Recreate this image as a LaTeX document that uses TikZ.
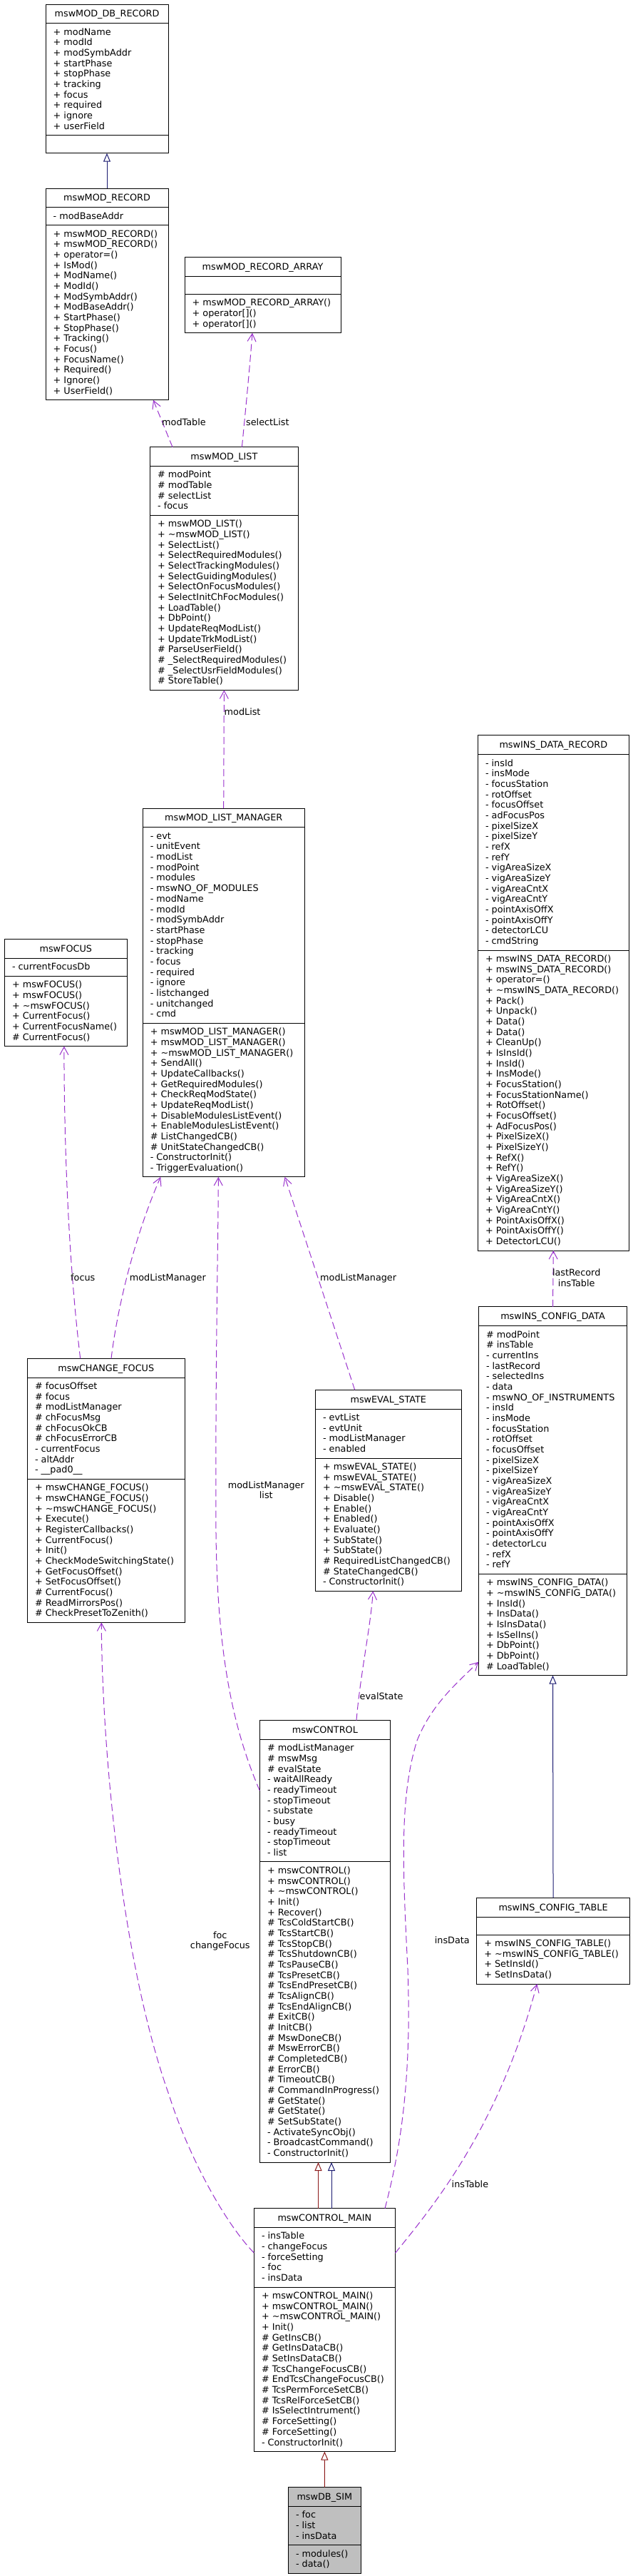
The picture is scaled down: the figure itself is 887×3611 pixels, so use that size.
\documentclass[tikz,border=0pt]{standalone}
\usepackage{fontspec}
\setmainfont{DejaVu Sans}
\usetikzlibrary{arrows.meta}
\definecolor{usecol}{HTML}{9A32CD}
\definecolor{pubcol}{HTML}{191970}
\definecolor{protcol}{HTML}{8B1A1A}
\definecolor{simgray}{HTML}{BFBFBF}
\newcommand{\umlfont}{\fontsize{12.8}{14.67}\selectfont}
\tikzset{
 classbox/.style={draw=black, line width=1pt, inner sep=0pt, outer sep=0pt},
 sepline/.style={draw=black, line width=1pt},
 membertext/.style={anchor=base west, inner sep=0pt, font=\umlfont},
 titletext/.style={anchor=base, inner sep=0pt, font=\umlfont},
 lbl/.style={anchor=base west, inner sep=0pt, font=\umlfont},
 lblc/.style={anchor=base, inner sep=0pt, font=\umlfont},
 uses/.style={draw=usecol, line width=1pt, dash pattern=on 10pt off 5pt, -{Straight Barb[length=11pt,width=12pt,line width=1pt]}},
 pubinh/.style={draw=pubcol, line width=1pt, -{Triangle[open,length=12pt,width=10pt,fill=white]}},
 protinh/.style={draw=protcol, line width=1pt, -{Triangle[open,length=12pt,width=10pt,fill=white]}},
}
\newcommand{\classfill}{white}
\newcommand{\umlclass}[9]{%
  \pgfmathsetmacro{\hA}{(#6==0) ? 25 : (#6*14.67+10.33)}%
  \pgfmathsetmacro{\hB}{(#8==0) ? 25 : (#8*14.67+10.33)}%
  \pgfmathsetmacro{\bw}{#3-#2}%
  \pgfmathsetmacro{\bh}{26.7+\hA+\hB}%
  \pgfmathsetmacro{\ysA}{26.7}%
  \pgfmathsetmacro{\ysB}{26.7+\hA}%
  \node[classbox, fill=\classfill, minimum width=\bw pt, minimum height=\bh pt, anchor=north west] (#1) at (#2,#4) {};
  \draw[sepline] ([yshift=-\ysA pt]#1.north west) -- ([yshift=-\ysA pt]#1.north east);
  \draw[sepline] ([yshift=-\ysB pt]#1.north west) -- ([yshift=-\ysB pt]#1.north east);
  \node[titletext] (#1-title) at ([yshift=-17.85pt]#1.north) {#5};
  \ifnum#6>0
  \foreach \mt [count=\mi from 0] in {#7} {%
     \pgfmathsetmacro{\yy}{26.7+12+\mi*14.67+4.5}%
     \node[membertext] at ([xshift=10.5pt, yshift=-\yy pt]#1.north west) {\mt};
  }\fi
  \ifnum#8>0
  \foreach \mt [count=\mi from 0] in {#9} {%
     \pgfmathsetmacro{\yy}{\ysB+12+\mi*14.67+4.5}%
     \node[membertext] at ([xshift=10.5pt, yshift=-\yy pt]#1.north west) {\mt};
  }\fi
}
\begin{document}
\begin{tikzpicture}[x=1pt,y=-1pt]
\fill[white] (0,0) rectangle (887,3611);
\useasboundingbox (0,0) rectangle (887,3611);

\umlclass{MODDBREC}{64}{236}{6}{mswMOD\_DB\_RECORD}{10}{+ modName,+ modId,+ modSymbAddr,+ startPhase,+ stopPhase,+ tracking,+ focus,+ required,+ ignore,+ userField}{0}{}

\umlclass{MODREC}{64}{236}{264}{mswMOD\_RECORD}{1}{- modBaseAddr}{16}{+ mswMOD\_RECORD(),+ mswMOD\_RECORD(),+ operator=(),+ IsMod(),+ ModName(),+ ModId(),+ ModSymbAddr(),+ ModBaseAddr(),+ StartPhase(),+ StopPhase(),+ Tracking(),+ Focus(),+ FocusName(),+ Required(),+ Ignore(),+ UserField()}

\umlclass{MODRECARR}{259}{478}{360.7}{mswMOD\_RECORD\_ARRAY}{0}{}{3}{+ mswMOD\_RECORD\_ARRAY(),+ operator[](),+ operator[]()}

\umlclass{MODLIST}{210.5}{418.3}{626.7}{mswMOD\_LIST}{4}{\# modPoint,\# modTable,\# selectList,- focus}{16}{+ mswMOD\_LIST(),+ \textasciitilde mswMOD\_LIST(),+ SelectList(),+ SelectRequiredModules(),+ SelectTrackingModules(),+ SelectGuidingModules(),+ SelectOnFocusModules(),+ SelectInitChFocModules(),+ LoadTable(),+ DbPoint(),+ UpdateReqModList(),+ UpdateTrkModList(),\# ParseUserField(),\# \_SelectRequiredModules(),\# \_SelectUsrFieldModules(),\# StoreTable()}

\umlclass{LISTMGR}{200.1}{427.3}{1133.1}{mswMOD\_LIST\_MANAGER}{18}{- evt,- unitEvent,- modList,- modPoint,- modules,- mswNO\_OF\_MODULES,- modName,- modId,- modSymbAddr,- startPhase,- stopPhase,- tracking,- focus,- required,- ignore,- listchanged,- unitchanged,- cmd}{14}{+ mswMOD\_LIST\_MANAGER(),+ mswMOD\_LIST\_MANAGER(),+ \textasciitilde mswMOD\_LIST\_MANAGER(),+ SendAll(),+ UpdateCallbacks(),+ GetRequiredModules(),+ CheckReqModState(),+ UpdateReqModList(),+ DisableModulesListEvent(),+ EnableModulesListEvent(),\# ListChangedCB(),\# UnitStateChangedCB(),- ConstructorInit(),- TriggerEvaluation()}

\umlclass{FOCUS}{6.3}{178.3}{1316.6}{mswFOCUS}{1}{- currentFocusDb}{6}{+ mswFOCUS(),+ mswFOCUS(),+ \textasciitilde mswFOCUS(),+ CurrentFocus(),+ CurrentFocusName(),\# CurrentFocus()}

\umlclass{INSDATAREC}{670.3}{882.3}{1030.9}{mswINS\_DATA\_RECORD}{18}{- insId,- insMode,- focusStation,- rotOffset,- focusOffset,- adFocusPos,- pixelSizeX,- pixelSizeY,- refX,- refY,- vigAreaSizeX,- vigAreaSizeY,- vigAreaCntX,- vigAreaCntY,- pointAxisOffX,- pointAxisOffY,- detectorLCU,- cmdString}{28}{+ mswINS\_DATA\_RECORD(),+ mswINS\_DATA\_RECORD(),+ operator=(),+ \textasciitilde mswINS\_DATA\_RECORD(),+ Pack(),+ Unpack(),+ Data(),+ Data(),+ CleanUp(),+ IsInsId(),+ InsId(),+ InsMode(),+ FocusStation(),+ FocusStationName(),+ RotOffset(),+ FocusOffset(),+ AdFocusPos(),+ PixelSizeX(),+ PixelSizeY(),+ RefX(),+ RefY(),+ VigAreaSizeX(),+ VigAreaSizeY(),+ VigAreaCntX(),+ VigAreaCntY(),+ PointAxisOffX(),+ PointAxisOffY(),+ DetectorLCU()}

\umlclass{INSCFGDATA}{671.3}{879.7}{1831.8}{mswINS\_CONFIG\_DATA}{23}{\# modPoint,\# insTable,- currentIns,- lastRecord,- selectedIns,- data,- mswNO\_OF\_INSTRUMENTS,- insId,- insMode,- focusStation,- rotOffset,- focusOffset,- pixelSizeX,- pixelSizeY,- vigAreaSizeX,- vigAreaSizeY,- vigAreaCntX,- vigAreaCntY,- pointAxisOffX,- pointAxisOffY,- detectorLcu,- refX,- refY}{9}{+ mswINS\_CONFIG\_DATA(),+ \textasciitilde mswINS\_CONFIG\_DATA(),+ InsId(),+ InsData(),+ IsInsData(),+ IsSelIns(),+ DbPoint(),+ DbPoint(),\# LoadTable()}

\umlclass{CHFOCUS}{38.3}{259.3}{1904.3}{mswCHANGE\_FOCUS}{9}{\# focusOffset,\# focus,\# modListManager,\# chFocusMsg,\# chFocusOkCB,\# chFocusErrorCB,- currentFocus,- altAddr,- \_\_pad0\_\_}{13}{+ mswCHANGE\_FOCUS(),+ mswCHANGE\_FOCUS(),+ \textasciitilde mswCHANGE\_FOCUS(),+ Execute(),+ RegisterCallbacks(),+ CurrentFocus(),+ Init(),+ CheckModeSwitchingState(),+ GetFocusOffset(),+ SetFocusOffset(),\# CurrentFocus(),\# ReadMirrorsPos(),\# CheckPresetToZenith()}

\umlclass{EVALSTATE}{442.3}{647.3}{1948.3}{mswEVAL\_STATE}{4}{- evtList,- evtUnit,- modListManager,- enabled}{12}{+ mswEVAL\_STATE(),+ mswEVAL\_STATE(),+ \textasciitilde mswEVAL\_STATE(),+ Disable(),+ Enable(),+ Enabled(),+ Evaluate(),+ SubState(),+ SubState(),\# RequiredListChangedCB(),\# StateChangedCB(),- ConstructorInit()}

\umlclass{CONTROL}{364.3}{547.4}{2411.5}{mswCONTROL}{11}{\# modListManager,\# mswMsg,\# evalState,- waitAllReady,- readyTimeout,- stopTimeout,- substate,- busy,- readyTimeout,- stopTimeout,- list}{28}{+ mswCONTROL(),+ mswCONTROL(),+ \textasciitilde mswCONTROL(),+ Init(),+ Recover(),\# TcsColdStartCB(),\# TcsStartCB(),\# TcsStopCB(),\# TcsShutdownCB(),\# TcsPauseCB(),\# TcsPresetCB(),\# TcsEndPresetCB(),\# TcsAlignCB(),\# TcsEndAlignCB(),\# ExitCB(),\# InitCB(),\# MswDoneCB(),\# MswErrorCB(),\# CompletedCB(),\# ErrorCB(),\# TimeoutCB(),\# CommandInProgress(),\# GetState(),\# GetState(),\# SetSubState(),- ActivateSyncObj(),- BroadcastCommand(),- ConstructorInit()}

\umlclass{INSCFGTABLE}{668.6}{883.5}{2660.3}{mswINS\_CONFIG\_TABLE}{0}{}{4}{+ mswINS\_CONFIG\_TABLE(),+ \textasciitilde mswINS\_CONFIG\_TABLE(),+ SetInsId(),+ SetInsData()}

\umlclass{CTRLMAIN}{356.3}{554.4}{3095.7}{mswCONTROL\_MAIN}{5}{- insTable,- changeFocus,- forceSetting,- foc,- insData}{15}{+ mswCONTROL\_MAIN(),+ mswCONTROL\_MAIN(),+ \textasciitilde mswCONTROL\_MAIN(),+ Init(),\# GetInsCB(),\# GetInsDataCB(),\# SetInsDataCB(),\# TcsChangeFocusCB(),\# EndTcsChangeFocusCB(),\# TcsPermForceSetCB(),\# TcsRelForceSetCB(),\# IsSelectIntrument(),\# ForceSetting(),\# ForceSetting(),- ConstructorInit()}

\renewcommand{\classfill}{simgray}
\umlclass{DBSIM}{404.3}{506.3}{3486.7}{mswDB\_SIM}{3}{- foc,- list,- insData}{2}{- modules(),- data()}

% ---- connectors ----
\draw[pubinh] (MODREC.north) -- (MODDBREC.south);
\draw[uses] ([xshift=-72.4pt]MODLIST.north) -- ([xshift=65pt]MODREC.south);
\node[lbl] (l-modTable) at (227,596.2) {modTable};
\draw[uses] ([xshift=25pt]MODLIST.north) .. controls (343,590) and (350,520) .. ([xshift=-14.5pt]MODRECARR.south);
\node[lbl] (l-selectList) at (345,596.2) {selectList};
\draw[uses] (LISTMGR.north) -- (MODLIST.south);
\node[lbl] (l-modList) at (314.5,1002.2) {modList};

\draw[uses] ([xshift=-36.1pt]CHFOCUS.north) .. controls (100,1800) and (90,1650) .. ([xshift=-2.4pt]FOCUS.south);
\node[lbl] (l-focus) at (99,1795.2) {focus};
\draw[uses] ([xshift=7.2pt]CHFOCUS.north) .. controls (165,1830) and (190,1730) .. ([xshift=-88.4pt]LISTMGR.south);
\node[lbl] (l-mlm1) at (181.7,1795.2) {modListManager};
\draw[uses] ([yshift=-98.5pt]CONTROL.north west) .. controls (330,2430) and (305,2330) .. (303,2150) .. controls (302,1900) and (306,1750) .. ([xshift=-7.4pt]LISTMGR.south);
\node[lblc] (l-mlm2) at (373.3,2086.2) {modListManager};
\node[lblc] (l-list) at (373.3,2100.5) {list};
\draw[uses] ([xshift=-47.1pt]EVALSTATE.north) -- ([xshift=85.9pt]LISTMGR.south);
\node[lbl] (l-mlm3) at (449,1795.2) {modListManager};
\draw[uses] ([xshift=44.15pt]CONTROL.north) .. controls (505,2350) and (520,2280) .. ([xshift=-21.5pt]EVALSTATE.south);
\node[lbl] (l-evalState) at (504.5,2382.9) {evalState};

\draw[protinh] ([xshift=-8.85pt]CTRLMAIN.north) -- ([xshift=-9.35pt]CONTROL.south);
\draw[pubinh] ([xshift=9.65pt]CTRLMAIN.north) -- ([xshift=9.15pt]CONTROL.south);
\draw[protinh] (DBSIM.north) -- (CTRLMAIN.south);

\draw[uses] ([yshift=-62.3pt]CTRLMAIN.north west) .. controls (310,3110) and (260,3010) .. (237.6,2938) .. controls (170,2750) and (143,2450) .. ([xshift=-6.5pt]CHFOCUS.south);
\node[lblc] (l-foc) at (308.8,2717.5) {foc};
\node[lblc] (l-changeFocus) at (308.8,2731.8) {changeFocus};

\draw[uses] ([xshift=84.65pt]CTRLMAIN.north) .. controls (560,3020) and (578,2920) .. (572,2760) .. controls (565,2620) and (560,2520) .. (585,2440) .. controls (605,2390) and (640,2360) .. ([yshift=18.9pt]INSCFGDATA.south west);
\node[lbl] (l-insData) at (609.7,2724.1) {insData};
\draw[uses] ([yshift=-62.6pt]CTRLMAIN.north east) .. controls (610,3090) and (700,2980) .. ([xshift=-22.65pt]INSCFGTABLE.south);
\node[lbl] (l-insTable) at (633.5,3066.1) {insTable};
\draw[pubinh] (INSCFGTABLE.north) -- (INSCFGDATA.south);
\draw[uses] (INSCFGDATA.north) -- (INSDATAREC.south);
\node[lblc] (l-lastRecord) at (808.7,1788.1) {lastRecord};
\node[lblc] (l-insTable2) at (808.7,1803.3) {insTable};
\end{tikzpicture}
\end{document}
